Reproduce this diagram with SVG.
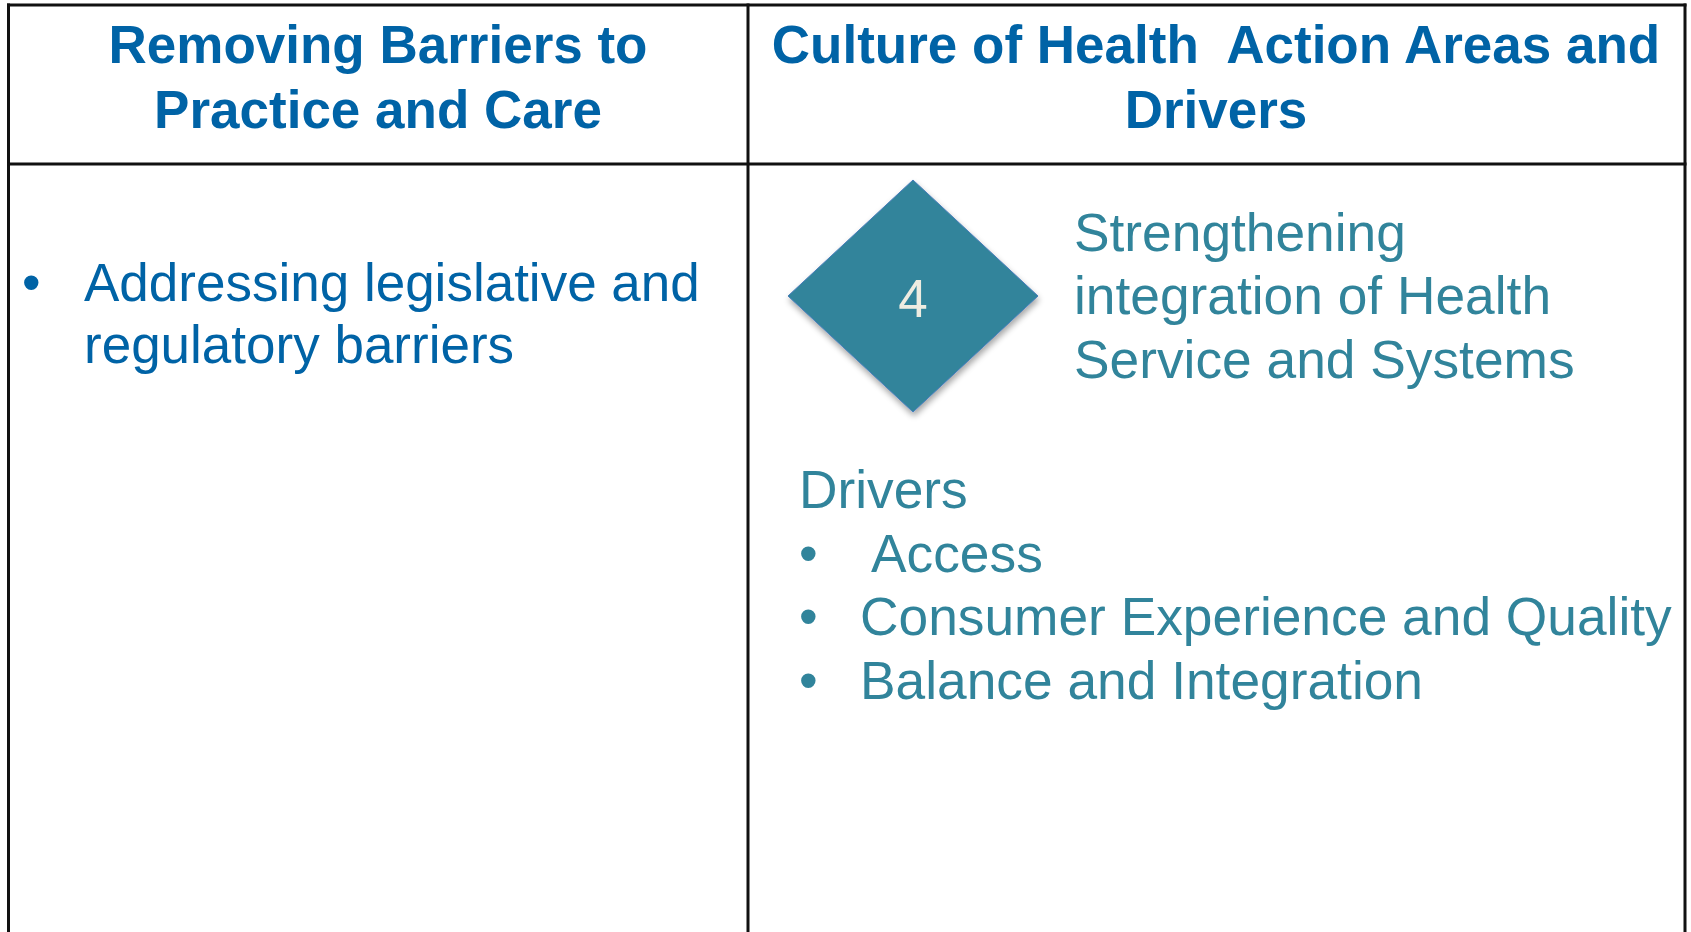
<svg xmlns="http://www.w3.org/2000/svg" width="1691" height="932" viewBox="0 0 1691 932">
  <defs>
    <style>
      .grid { stroke: #111111; stroke-width: 3; fill: none; }
      .hdr { font-family: "Liberation Sans", Arial, sans-serif; font-weight: bold; font-size: 53px; fill: #0063A6; text-anchor: middle; white-space: pre; }
      .lbody { font-family: "Liberation Sans", Arial, sans-serif; font-size: 53px; fill: #0063A6; }
      .rbody { font-family: "Liberation Sans", Arial, sans-serif; font-size: 53.3px; fill: #31849B; }
      .num { font-family: "Liberation Sans", Arial, sans-serif; font-size: 53px; fill: #EEECE1; text-anchor: middle; }
    </style>
    <filter id="shadow" x="-20%" y="-20%" width="140%" height="140%">
      <feGaussianBlur in="SourceAlpha" stdDeviation="3"/>
      <feOffset dx="1" dy="4" result="b"/>
      <feComponentTransfer><feFuncA type="linear" slope="0.35"/></feComponentTransfer>
      <feMerge><feMergeNode/><feMergeNode in="SourceGraphic"/></feMerge>
    </filter>
  </defs>
  <rect x="0" y="0" width="1691" height="932" fill="#ffffff"/>

  <g id="table-grid">
    <line class="grid" x1="7" y1="5" x2="1686.5" y2="5"/>
    <line class="grid" x1="8.5" y1="3.5" x2="8.5" y2="932"/>
    <line class="grid" x1="748" y1="3.5" x2="748" y2="932"/>
    <line class="grid" x1="1685" y1="3.5" x2="1685" y2="932"/>
    <line class="grid" x1="7" y1="164" x2="1686.5" y2="164"/>
  </g>

  <g id="header-left">
    <text class="hdr" x="378" y="63">Removing Barriers to</text>
    <text class="hdr" x="378" y="128">Practice and Care</text>
  </g>

  <g id="header-right">
    <text class="hdr" x="1216" y="63">Culture of Health  Action Areas and</text>
    <text class="hdr" x="1216" y="128">Drivers</text>
  </g>

  <g id="cell-left">
    <text class="lbody" x="22" y="301">•</text>
    <text class="lbody" x="84" y="301">Addressing legislative and</text>
    <text class="lbody" x="84" y="363">regulatory barriers</text>
  </g>

  <g id="diamond-4">
    <polygon points="913,180 1038,296 913,412 788,296" fill="#31849B" stroke="#4A7EBB" stroke-width="1" filter="url(#shadow)"/>
    <text class="num" x="913" y="317">4</text>
  </g>

  <g id="action-area">
    <text class="rbody" x="1074" y="251">Strengthening</text>
    <text class="rbody" x="1074" y="314">integration of Health</text>
    <text class="rbody" x="1074" y="377.5">Service and Systems</text>
  </g>

  <g id="drivers">
    <text class="rbody" x="799" y="507.5">Drivers</text>
    <text class="rbody" x="799" y="571.5">•</text>
    <text class="rbody" x="871" y="571.5">Access</text>
    <text class="rbody" x="799" y="635">•</text>
    <text class="rbody" x="860" y="635">Consumer Experience and Quality</text>
    <text class="rbody" x="799" y="698.5">•</text>
    <text class="rbody" x="860" y="698.5">Balance and Integration</text>
  </g>
</svg>
